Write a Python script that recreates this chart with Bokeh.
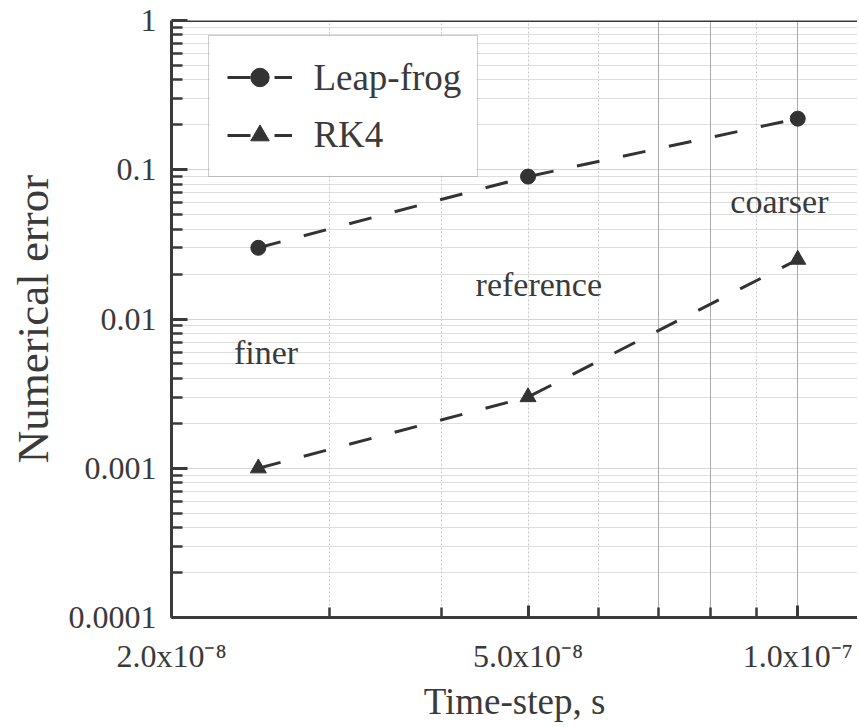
from bokeh.plotting import figure
from bokeh.models import (Range1d, FixedTicker, CustomJSTickFormatter, Grid, Span,
                          Legend, LegendItem, ColumnDataSource)
from bokeh.core.properties import value
from bokeh.embed import file_html
from bokeh.resources import INLINE

# ---- data ----
time_step = [2.5e-8, 5.0e-8, 1.0e-7]
leapfrog_err = [0.030, 0.090, 0.22]
rk4_err = [0.0010, 0.0030, 0.025]
series_names = ["Leap-frog", "RK4"]

note_text = ["finer", "reference", "coarser"]
note_x = [2.55e-8, 5.14e-8, 9.54e-8]
note_y = [0.0060, 0.0170, 0.0613]

x_ticks = [2.0e-8, 5.0e-8, 1.0e-7]
x_tick_labels = ["2.0x10\u207b\u2078", "5.0x10\u207b\u2078", "1.0x10\u207b\u2077"]
x_minor_ticks = [3e-8, 4e-8, 6e-8, 7e-8, 8e-8, 9e-8]
x_grid_dotted = [3e-8, 4e-8, 5e-8, 6e-8, 9e-8]
x_grid_solid = [7e-8, 8e-8, 1e-7]

y_ticks = [1e-4, 1e-3, 1e-2, 1e-1, 1.0]
y_tick_labels = ["0.0001", "0.001", "0.01", "0.1", "1"]
y_minor_ticks = [m * 10.0 ** e for e in range(-4, 0) for m in range(2, 10)]

x_start, x_end = 2.0e-8, 1.166e-7
y_start, y_end = 1e-4, 1.0

# legend layout (in axis units): white panel and text anchors
legend_panel = dict(left=2.205e-8, right=4.38e-8, top=0.781, bottom=0.0915)
legend_text_x = 2.88e-8
legend_text_y = [0.415, 0.172]

FONT = "Liberation Serif"
INK = "#3a3a3a"

p = figure(width=857, height=725, x_axis_type="log", y_axis_type="log",
           x_range=Range1d(x_start, x_end), y_range=Range1d(y_start, y_end),
           output_backend="svg", toolbar_location=None,
           min_border_left=171, min_border_right=0, min_border_top=20,
           min_border_bottom=108)
p.outline_line_color = None
p.background_fill_color = "white"

fmt_code = """
let best = 0; let bd = Infinity;
for (let i = 0; i < tv.length; i++) {
  const d = Math.abs(Math.log(tick) - Math.log(tv[i]));
  if (d < bd) { bd = d; best = i; }
}
return tl[best];
"""

p.xaxis.ticker = FixedTicker(ticks=x_ticks, minor_ticks=x_minor_ticks)
p.xaxis.formatter = CustomJSTickFormatter(args=dict(tv=x_ticks, tl=x_tick_labels), code=fmt_code)
p.xaxis.axis_label = "Time-step, s"
p.yaxis.ticker = FixedTicker(ticks=y_ticks, minor_ticks=y_minor_ticks)
p.yaxis.formatter = CustomJSTickFormatter(args=dict(tv=y_ticks, tl=y_tick_labels), code=fmt_code)
p.yaxis.axis_label = "Numerical error"

for ax in (p.xaxis, p.yaxis):
    ax.axis_line_color = INK
    ax.axis_line_width = 3
    ax.major_tick_line_color = INK
    ax.minor_tick_line_color = INK
    ax.major_tick_line_width = 3
    ax.minor_tick_line_width = 2.5
    ax.major_tick_out = 0
    ax.minor_tick_out = 0
    ax.major_label_text_font = FONT
    ax.major_label_text_font_size = "32px"
    ax.major_label_text_font_style = "normal"
    ax.major_label_text_color = INK
    ax.axis_label_text_font = FONT
    ax.axis_label_text_font_style = "normal"
    ax.axis_label_text_color = INK

p.xaxis.major_tick_in = 12
p.xaxis.minor_tick_in = 10
p.xaxis.major_label_standoff = 20
p.xaxis.axis_label_text_font_size = "37px"
p.xaxis.axis_label_standoff = 4

p.yaxis.major_tick_in = 16
p.yaxis.minor_tick_in = 11
p.yaxis.major_label_standoff = 15
p.yaxis.axis_label_text_font_size = "45px"
p.yaxis.axis_label_standoff = 8

# grids
p.xgrid.grid_line_color = None
p.ygrid.ticker = FixedTicker(ticks=y_ticks, minor_ticks=y_minor_ticks)
p.ygrid.grid_line_color = "#d4d4d4"
p.ygrid.minor_grid_line_color = "#dedede"
p.ygrid.grid_line_width = 1

g1 = Grid(dimension=0, ticker=FixedTicker(ticks=x_grid_dotted),
          grid_line_color="#c8c8c8", grid_line_dash="2 2", grid_line_width=1)
g2 = Grid(dimension=0, ticker=FixedTicker(ticks=x_grid_solid),
          grid_line_color="#aaaaaa", grid_line_width=1)
p.add_layout(g1)
p.add_layout(g2)

p.add_layout(Span(location=y_end, dimension="width", line_color=INK, line_width=3))

# white panel behind the legend entries (covers the grid)
p.quad(left=[legend_panel["left"]], right=[legend_panel["right"]],
       top=[legend_panel["top"]], bottom=[legend_panel["bottom"]],
       fill_color="white", line_color=None)

# series
src = ColumnDataSource(dict(x=time_step, lf=leapfrog_err, rk=rk4_err))
l1 = p.line("x", "lf", source=src, line_color="#333333", line_width=3, line_dash="23 24")
m1 = p.scatter("x", "lf", source=src, marker="circle", size=15,
               fill_color="#333333", line_color="#333333")
l2 = p.line("x", "rk", source=src, line_color="#333333", line_width=3, line_dash="23 24")
m2 = p.scatter("x", "rk", source=src, marker="triangle", size=16,
               fill_color="#333333", line_color="#333333")

nsrc = ColumnDataSource(dict(x=note_x, y=note_y, t=note_text))
p.text("x", "y", text="t", source=nsrc, text_font=value(FONT), text_font_size="34px",
       text_color=INK, text_align="center", text_baseline="middle")

# legend names as serif text
lsrc = ColumnDataSource(dict(x=[legend_text_x] * len(series_names), y=legend_text_y,
                             t=series_names))
p.text("x", "y", text="t", source=lsrc, text_font=value(FONT), text_font_size="37px",
       text_color=INK, text_align="left", text_baseline="middle")

# legend: border and glyph samples
legend = Legend(items=[LegendItem(label=" ", renderers=[l1, m1]),
                       LegendItem(label="  ", renderers=[l2, m2])],
                location=(37, 440))
legend.label_text_font_size = "37px"
legend.label_width = 139
legend.glyph_width = 65
legend.glyph_height = 46
legend.label_height = 46
legend.label_standoff = 28
legend.spacing = 12
legend.padding = 18
legend.margin = 0
legend.border_line_color = "#9a9a9a"
legend.border_line_width = 1
legend.background_fill_alpha = 0.0
p.add_layout(legend, "center")

open("out.html", "w").write(file_html(p, INLINE))
